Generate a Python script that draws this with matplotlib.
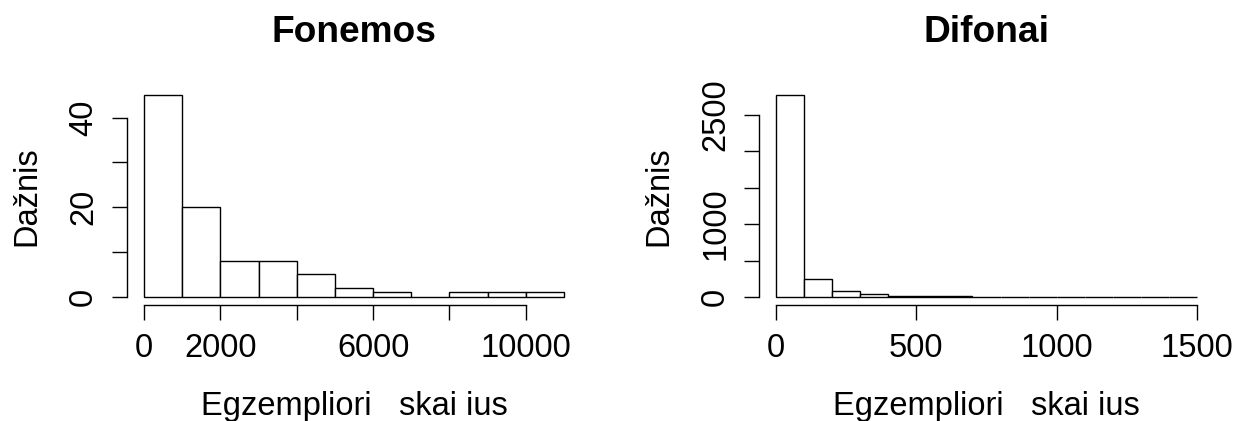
import matplotlib
matplotlib.use("Agg")
import matplotlib.pyplot as plt
import numpy as np

plt.rcParams['font.family'] = ['Liberation Sans', 'DejaVu Sans']

# bin counts
fonemos_edges = [0, 1000, 2000, 3000, 4000, 5000, 6000, 7000, 8000, 9000, 10000, 11000]
fonemos_counts = [45, 20, 8, 8, 5, 2, 1, 0, 1, 1, 1]
fonemos_xticks = [0, 2000, 4000, 6000, 8000, 10000]
fonemos_xlabels = ['0', '2000', '', '6000', '', '10000']
fonemos_yticks = [0, 10, 20, 30, 40]
fonemos_ylabels = ['0', '', '20', '', '40']

difonai_edges = [0, 100, 200, 300, 400, 500, 600, 700, 800, 900, 1000,
                 1100, 1200, 1300, 1400, 1500]
difonai_counts = [2775, 250, 75, 40, 18, 12, 6, 4, 3, 2, 2, 1, 1, 1, 1]
difonai_xticks = [0, 500, 1000, 1500]
difonai_xlabels = ['0', '500', '1000', '1500']
difonai_yticks = [0, 500, 1000, 1500, 2000, 2500]
difonai_ylabels = ['0', '', '1000', '', '', '2500']

x_title = 'Egzempliori   skai ius'
y_title = 'Dažnis'

W, H = 1233, 421
fig = plt.figure(figsize=(W / 100, H / 100), dpi=100)

panels = [
    ('Fonemos', 127.2, 580.8, fonemos_edges, fonemos_counts, fonemos_xticks,
     fonemos_xlabels, fonemos_yticks, fonemos_ylabels),
    ('Difonai', 759.2, 1213.8, difonai_edges, difonai_counts, difonai_xticks,
     difonai_xlabels, difonai_yticks, difonai_ylabels),
]

top_px, bot_px = 87, 305
for title, x0, x1, edges, counts, xt, xl, yt, yl in panels:
    ax = fig.add_axes([x0 / W, (H - bot_px) / H, (x1 - x0) / W, (bot_px - top_px) / H])
    edges = np.array(edges, dtype=float)
    widths = np.diff(edges)
    ax.bar(edges[:-1], counts, width=widths, align='edge', color='white',
           edgecolor='black', linewidth=1.0)
    xr = edges[-1] - edges[0]
    ax.set_xlim(edges[0] - 0.04 * xr, edges[-1] + 0.04 * xr)
    ymax = max(counts)
    ax.set_ylim(-0.04 * ymax, 1.04 * ymax)

    for s in ['top', 'right']:
        ax.spines[s].set_visible(False)
    ax.spines['bottom'].set_bounds(xt[0], xt[-1])
    ax.spines['left'].set_bounds(yt[0], yt[-1])
    for s in ['bottom', 'left']:
        ax.spines[s].set_linewidth(1.0)

    ax.set_xticks(xt)
    ax.set_xticklabels(xl)
    ax.set_yticks(yt)
    ax.set_yticklabels(yl, rotation=90, va='center')
    ax.tick_params(axis='both', direction='out', length=10.8, width=1.0,
                   labelsize=23.5)
    ax.tick_params(axis='x', pad=9.4)
    ax.tick_params(axis='y', pad=9.4)

    ax.set_title(title, fontsize=26.7, fontweight='bold', pad=32.2)
    ax.set_xlabel(x_title, fontsize=23.5, labelpad=19.2)
    ax.set_ylabel(y_title, fontsize=23.5, labelpad=18.7)

fig.savefig('out.png', dpi=100)
